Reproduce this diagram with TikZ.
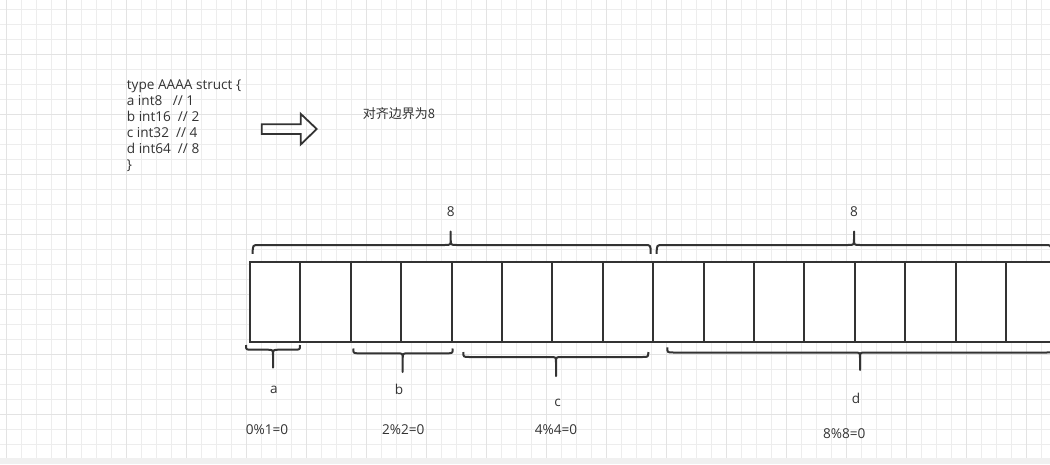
\documentclass[tikz,border=0pt]{standalone}
\usepackage{fontspec}
\setmainfont{Open Sans}
\newfontfamily\cjk{Noto Sans CJK SC}
\usetikzlibrary{positioning}

% curly brace: x1, xm, x2, y of ends, y of straight part, y where the tip curl ends, y of tip
\newcommand{\membrace}[7]{%
  \draw[bracket] (#1,#4) .. controls (#1,#5) .. (#1+6,#5) -- (#2-6,#5)
    .. controls (#2,#5) .. (#2,#6) -- (#2,#7) -- (#2,#6)
    .. controls (#2,#5) .. (#2+6,#5) -- (#3-6,#5) .. controls (#3,#5) .. (#3,#4);
}

\begin{document}
\begin{tikzpicture}[
    x=1pt, y=-1pt,
    gridminor/.style={draw=black!7, line width=0.8pt},
    gridmajor/.style={draw=black!11, line width=0.8pt},
    cell/.style={
      draw=black!80,
      line width=2pt,
      fill=white,
      inner sep=0pt,
      outer sep=0pt,
      minimum width=50.4pt,
      minimum height=80pt
    },
    bracket/.style={draw=black!80, line width=2pt, line join=round},
    txt/.style={
      text=black!80,
      inner sep=0pt,
      font=\fontsize{13.6}{16}\selectfont
    },
    code/.style={txt, align=left}
  ]
  \clip (0,0) rectangle (1050,464);
  \fill[white] (0,0) rectangle (1050,464);

  % grid
  \foreach \gx in {0,...,69}
    \draw[gridminor] (6.7+15*\gx,0) -- (6.7+15*\gx,464);
  \foreach \gy in {0,...,30}
    \draw[gridminor] (0,9.3+15*\gy) -- (1050,9.3+15*\gy);
  \foreach \gx in {0,...,17}
    \draw[gridmajor] (6.7+60*\gx,0) -- (6.7+60*\gx,464);
  \foreach \gy in {0,...,7}
    \draw[gridmajor] (0,54.3+60*\gy) -- (1050,54.3+60*\gy);
  \fill[black!6] (0,457.7) rectangle (1050,464);

  % struct and arrow
  \node[code, anchor=north west] (structdef) at (126.7,80)
    {type AAAA struct \{\\
     a int8\ \ \ // 1\\
     b int16\ \ // 2\\
     c int32\ \ // 4\\
     d int64\ \ // 8\\
     \}};
  \draw[draw=black!80, line width=1.8pt, line join=miter]
    (261.7,124.3) -- (300.7,124.3) -- (300.7,113.8) -- (316.7,129)
    -- (300.7,144.5) -- (300.7,134) -- (261.7,134) -- cycle;
  \node[txt, font=\fontsize{13}{16}\selectfont] (bound) at (399,113.3) {\cjk 对齐边界为8};

  % memory cells
  \foreach \i in {1,...,16}
    \node[cell, anchor=north west] (cell\i) at ({250+50.4*(\i-1)},261.7) {};

  % braces above
  \membrace{252.7}{450.7}{650.7}{253.8}{245}{239}{231.5}
  \membrace{656.7}{854}{1051.3}{253.8}{245}{239}{231.5}
  \node[txt] (eightA) at (450.7,212) {8};
  \node[txt] (eightB) at (854,212) {8};

  % braces below
  \membrace{246}{273}{300}{345}{349.7}{355.5}{367.5}
  \membrace{353.3}{402.7}{452.7}{348.5}{353.3}{359}{372}
  \membrace{463.3}{556}{648.3}{352}{357}{362.5}{376}
  \membrace{667.3}{860}{1052.7}{347.3}{352.5}{358}{370}

  \node[txt] (fielda) at (274,389.5) {a};
  \node[txt] (fieldb) at (399,389.5) {b};
  \node[txt] (fieldc) at (557.7,403.3) {c};
  \node[txt] (fieldd) at (856,398.5) {d};

  \node[txt] (moda) at (267,429.3) {0\%1=0};
  \node[txt] (modb) at (403.3,429.3) {2\%2=0};
  \node[txt] (modc) at (556,429.3) {4\%4=0};
  \node[txt] (modd) at (844.3,433.3) {8\%8=0};
\end{tikzpicture}
\end{document}
